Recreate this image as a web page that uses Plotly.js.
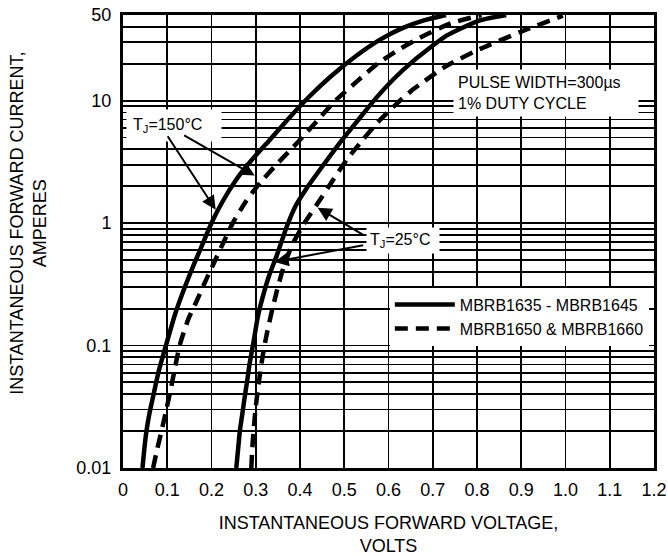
<!DOCTYPE html>
<html>
<head>
<meta charset="utf-8">
<script src="https://cdn.plot.ly/plotly-3.0.1.min.js"></script>
<style>html,body{margin:0;padding:0;background:#fff;}#chart{width:668px;height:556px;}</style>
</head>
<body>
<div id="chart"></div>
<script>
// Forward voltage (V) vs instantaneous forward current (A)
var solid150V = [0.044, 0.048, 0.053, 0.06, 0.069, 0.08, 0.097, 0.118, 0.14, 0.16, 0.18, 0.2, 0.225, 0.255, 0.29, 0.33, 0.375, 0.42, 0.47, 0.525, 0.58, 0.63, 0.68, 0.73];
var solid150I = [0.01, 0.0141, 0.02, 0.0282, 0.0398, 0.0603, 0.1, 0.182, 0.302, 0.457, 0.676, 1.0, 1.5, 2.24, 3.24, 4.71, 7.19, 10.7, 15.8, 22.9, 31.3, 38.9, 45.2, 50];
var dash150V = [0.068, 0.077, 0.087, 0.098, 0.11, 0.128, 0.148, 0.166, 0.183, 0.205, 0.228, 0.248, 0.278, 0.31, 0.35, 0.395, 0.44, 0.48, 0.53, 0.575, 0.625, 0.68, 0.74, 0.81];
var dash150I = [0.01, 0.0141, 0.02, 0.030, 0.048, 0.1, 0.166, 0.229, 0.316, 0.468, 0.708, 1.0, 1.51, 2.14, 3.09, 4.57, 6.92, 10, 14.5, 20, 26.3, 33.9, 42.7, 50];
var solid25V = [0.256, 0.26, 0.264, 0.27, 0.275, 0.281, 0.286, 0.295, 0.305, 0.316, 0.331, 0.347, 0.371, 0.39, 0.414, 0.452, 0.49, 0.53, 0.567, 0.61, 0.655, 0.731, 0.806, 0.866];
var solid25I = [0.01, 0.0141, 0.02, 0.0282, 0.038, 0.0525, 0.0708, 0.107, 0.174, 0.251, 0.38, 0.537, 0.955, 1.38, 1.9, 2.95, 4.52, 6.84, 10, 14.8, 20.9, 33.9, 45.2, 50];
var dash25V = [0.29, 0.292, 0.295, 0.3, 0.307, 0.315, 0.323, 0.335, 0.348, 0.362, 0.382, 0.41, 0.44, 0.475, 0.505, 0.542, 0.575, 0.62, 0.655, 0.731, 0.806, 0.896, 0.994];
var dash25I = [0.01, 0.0141, 0.02, 0.0316, 0.0501, 0.0794, 0.115, 0.182, 0.282, 0.427, 0.661, 1.0, 1.45, 2.26, 3.27, 4.79, 6.61, 9.55, 12.3, 19.2, 26.3, 36.1, 49.3];

var seriesNames = ["MBRB1635 - MBRB1645", "MBRB1650 & MBRB1660"];

var xTickVals = [0, 0.1, 0.2, 0.3, 0.4, 0.5, 0.6, 0.7, 0.8, 0.9, 1.0, 1.1, 1.2];
var xTickText = ["0", "0.1", "0.2", "0.3", "0.4", "0.5", "0.6", "0.7", "0.8", "0.9", "1.0", "1.1", "1.2"];
var yLabelVals = [0.01, 0.1, 1, 10, 50];
var yLabelText = ["0.01", "0.1", "1", "10", "50"];
var yGridMantissas = [1, 2, 3, 4, 5, 6, 7, 8, 9];
var yDecades = [0.01, 0.1, 1, 10];

var yTickVals = [], yTickText = [];
yDecades.forEach(function (d) {
  yGridMantissas.forEach(function (m) {
    var v = +(m * d).toPrecision(3);
    if (v <= 50) {
      yTickVals.push(v);
      var idx = yLabelVals.indexOf(v);
      yTickText.push(idx >= 0 ? yLabelText[idx] : "");
    }
  });
});

var FONT = "Liberation Sans, Arial, sans-serif";
var LW = 4.5;

function trace(x, y, dashed, name, show) {
  return {
    x: x, y: y, type: "scatter", mode: "lines",
    line: {color: "#000", width: LW, dash: dashed ? "13px,8px" : "solid", shape: "spline", smoothing: 0.5},
    name: name, showlegend: show, legendgroup: name, hoverinfo: "x+y"
  };
}

var data = [
  trace(solid150V, solid150I, false, seriesNames[0], true),
  trace(dash150V, dash150I, true, seriesNames[1], true),
  trace(solid25V, solid25I, false, seriesNames[0], false),
  trace(dash25V, dash25I, true, seriesNames[1], false)
];

var arrowBase = {xref: "x", yref: "y", text: "", showarrow: true, arrowhead: 2, arrowsize: 1.4, arrowwidth: 2, arrowcolor: "#000"};
function arrow(xv, yv, ax, ay) {
  return Object.assign({}, arrowBase, {x: xv, y: Math.log10(yv), ax: ax, ay: ay});
}

var layout = {
  width: 668, height: 556,
  margin: {l: 123, r: 14, t: 15, b: 88},
  paper_bgcolor: "#fff", plot_bgcolor: "#fff",
  font: {family: FONT, color: "#000", size: 17},
  showlegend: true,
  legend: {
    x: 0.5025, y: 0.398, xanchor: "left", yanchor: "top",
    bgcolor: "#fff", borderwidth: 0, font: {size: 16, family: FONT},
    itemwidth: 60, tracegroupgap: 0
  },
  xaxis: {
    range: [0, 1.2], tickvals: xTickVals, ticktext: xTickText,
    showgrid: true, gridcolor: "#000", gridwidth: 1.8,
    showline: true, linecolor: "#000", linewidth: 3, mirror: true,
    ticks: "", ticklabelstandoff: 3, zeroline: false,
    tickfont: {size: 18, family: FONT},
    title: {text: "INSTANTANEOUS FORWARD VOLTAGE,<br>VOLTS", font: {size: 18, family: FONT}, standoff: 27}
  },
  yaxis: {
    type: "log", range: [-2, Math.log10(50)],
    tickvals: yTickVals, ticktext: yTickText,
    showgrid: true, gridcolor: "#000", gridwidth: 1.8,
    showline: true, linecolor: "#000", linewidth: 3, mirror: true,
    ticks: "", ticklabelstandoff: 5, zeroline: false,
    tickfont: {size: 18, family: FONT}
  },
  annotations: [
    {xref: "paper", yref: "paper", x: -0.178, y: 0.54, xanchor: "center", yanchor: "middle",
     text: "INSTANTANEOUS FORWARD CURRENT,<br>AMPERES", textangle: -90, showarrow: false,
     font: {size: 18, family: FONT}},
    {xref: "paper", yref: "paper", x: 0.005, y: 0.757, xanchor: "left", yanchor: "middle",
     text: "T<sub>J</sub>=150°C", showarrow: false, bgcolor: "#fff", borderpad: 6, width: 82, align: "left",
     font: {size: 16, family: FONT}},
    {xref: "paper", yref: "paper", x: 0.457, y: 0.5014, xanchor: "left", yanchor: "middle",
     text: "T<sub>J</sub>=25°C", showarrow: false, bgcolor: "#fff", borderpad: 3, width: 66, align: "left",
     font: {size: 16, family: FONT}},
    {xref: "paper", yref: "paper", x: 0.6213, y: 0.8268, xanchor: "left", yanchor: "middle",
     text: "PULSE WIDTH=300µs<br>1% DUTY CYCLE", showarrow: false, bgcolor: "#fff", borderpad: 4, width: 176, align: "left",
     font: {size: 16, family: FONT}},
    arrow(0.2095, 1.285, -49, -75),
    arrow(0.2976, 2.44, -72, -41),
    arrow(0.44, 1.335, 47, 28),
    arrow(0.3428, 0.482, 90, -17)
  ]
};

Plotly.newPlot("chart", data, layout, {displayModeBar: false, staticPlot: true});
</script>
</body>
</html>
